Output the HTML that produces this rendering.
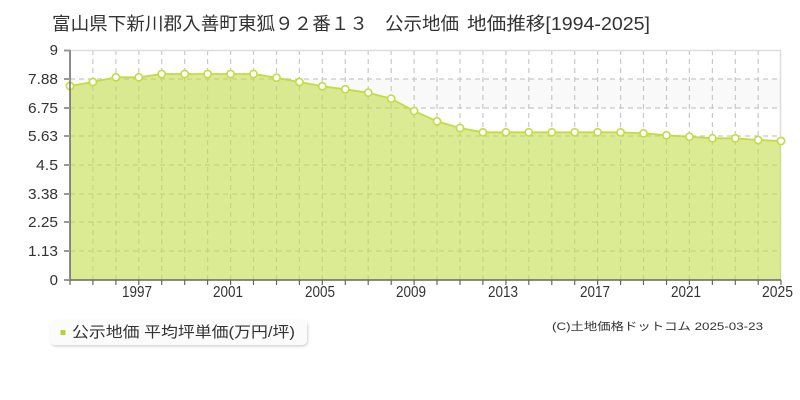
<!DOCTYPE html>
<html><head><meta charset="utf-8"><style>
html,body{margin:0;padding:0;background:#fff;width:800px;height:400px;overflow:hidden}
svg{display:block}
text{font-family:"Liberation Sans","Noto Sans CJK JP",sans-serif;fill:#333}
</style></head><body>
<svg width="800" height="400" viewBox="0 0 800 400" xmlns="http://www.w3.org/2000/svg">
<defs><filter id="sh" x="-10%" y="-30%" width="120%" height="170%"><feDropShadow dx="1" dy="1.5" stdDeviation="1.2" flood-color="#000" flood-opacity="0.18"/></filter></defs>
<!-- title -->
<text x="52" y="30" font-size="18" textLength="316" lengthAdjust="spacingAndGlyphs">富山県下新川郡入善町東狐９２番１３</text>
<text x="385" y="30" font-size="18" textLength="74" lengthAdjust="spacingAndGlyphs">公示地価</text>
<text x="467" y="30" font-size="18" textLength="183" lengthAdjust="spacingAndGlyphs">地価推移[1994-2025]</text>
<!-- plot bg -->
<rect x="70" y="50" width="711" height="230" fill="#fff"/>
<rect x="70" y="79" width="711" height="29" fill="#f9f9f9"/>
<!-- grid -->
<g stroke="#c8c8c8" stroke-width="1.2" stroke-dasharray="5,4" fill="none">
<line x1="70" y1="79" x2="781" y2="79"/><line x1="70" y1="108" x2="781" y2="108"/>
<line x1="70" y1="136" x2="781" y2="136"/><line x1="70" y1="165" x2="781" y2="165"/>
<line x1="70" y1="194" x2="781" y2="194"/><line x1="70" y1="222" x2="781" y2="222"/>
<line x1="70" y1="251" x2="781" y2="251"/>
<path d="M92.9 50V280M115.9 50V280M138.8 50V280M161.7 50V280M184.7 50V280M207.6 50V280M230.6 50V280M253.5 50V280M276.5 50V280M299.4 50V280M322.3 50V280M345.3 50V280M368.2 50V280M391.2 50V280M414.1 50V280M437.0 50V280M460.0 50V280M482.9 50V280M505.9 50V280M528.8 50V280M551.8 50V280M574.7 50V280M597.6 50V280M620.6 50V280M643.5 50V280M666.5 50V280M689.4 50V280M712.4 50V280M735.3 50V280M758.2 50V280"/>
</g>
<line x1="70" y1="50.5" x2="781" y2="50.5" stroke="#ddd" stroke-width="1.5"/>
<line x1="780.5" y1="50" x2="780.5" y2="280" stroke="#ddd" stroke-width="1.5"/>
<!-- area -->
<path d="M70 86L92.9 82L115.9 77.3L138.8 77.3L161.7 74L184.7 74L207.6 74L230.6 74L253.5 74L276.5 77.7L299.4 82L322.3 86.3L345.3 89.3L368.2 92.7L391.2 98.7L414.1 111L437.0 121.3L460.0 128L482.9 132.3L505.9 132.3L528.8 132.3L551.8 132.3L574.7 132.3L597.6 132.3L620.6 132.3L643.5 133.3L666.5 135.3L689.4 136.7L712.4 138.3L735.3 138.3L758.2 140L781 141L781 280L70 280Z" fill="rgba(195,222,77,0.6)"/>
<path d="M70 86L92.9 82L115.9 77.3L138.8 77.3L161.7 74L184.7 74L207.6 74L230.6 74L253.5 74L276.5 77.7L299.4 82L322.3 86.3L345.3 89.3L368.2 92.7L391.2 98.7L414.1 111L437.0 121.3L460.0 128L482.9 132.3L505.9 132.3L528.8 132.3L551.8 132.3L574.7 132.3L597.6 132.3L620.6 132.3L643.5 133.3L666.5 135.3L689.4 136.7L712.4 138.3L735.3 138.3L758.2 140L781 141" fill="none" stroke="#c3dc42" stroke-width="1.8"/>
<g fill="#fff" stroke="#c3dc42" stroke-width="1.6">
<circle cx="70" cy="86" r="3.6"/><circle cx="92.9" cy="82" r="3.6"/><circle cx="115.9" cy="77.3" r="3.6"/><circle cx="138.8" cy="77.3" r="3.6"/><circle cx="161.7" cy="74" r="3.6"/><circle cx="184.7" cy="74" r="3.6"/><circle cx="207.6" cy="74" r="3.6"/><circle cx="230.6" cy="74" r="3.6"/><circle cx="253.5" cy="74" r="3.6"/><circle cx="276.5" cy="77.7" r="3.6"/><circle cx="299.4" cy="82" r="3.6"/><circle cx="322.3" cy="86.3" r="3.6"/><circle cx="345.3" cy="89.3" r="3.6"/><circle cx="368.2" cy="92.7" r="3.6"/><circle cx="391.2" cy="98.7" r="3.6"/><circle cx="414.1" cy="111" r="3.6"/><circle cx="437.0" cy="121.3" r="3.6"/><circle cx="460.0" cy="128" r="3.6"/><circle cx="482.9" cy="132.3" r="3.6"/><circle cx="505.9" cy="132.3" r="3.6"/><circle cx="528.8" cy="132.3" r="3.6"/><circle cx="551.8" cy="132.3" r="3.6"/><circle cx="574.7" cy="132.3" r="3.6"/><circle cx="597.6" cy="132.3" r="3.6"/><circle cx="620.6" cy="132.3" r="3.6"/><circle cx="643.5" cy="133.3" r="3.6"/><circle cx="666.5" cy="135.3" r="3.6"/><circle cx="689.4" cy="136.7" r="3.6"/><circle cx="712.4" cy="138.3" r="3.6"/><circle cx="735.3" cy="138.3" r="3.6"/><circle cx="758.2" cy="140" r="3.6"/><circle cx="781" cy="141" r="3.6"/>
</g>
<!-- axes -->
<line x1="70" y1="50" x2="70" y2="280" stroke="#666" stroke-width="1.5"/>
<line x1="70" y1="280" x2="781" y2="280" stroke="#666" stroke-width="1.5"/>
<g stroke="#999" stroke-width="2">
<path d="M64 50.5H70M64 79H70M64 108H70M64 136H70M64 165H70M64 194H70M64 222H70M64 251H70M64 280H70"/>
</g>
<g stroke="#666" stroke-width="1.2">
<path d="M70 280V285M92.9 280V285M115.9 280V285M138.8 280V285M161.7 280V285M184.7 280V285M207.6 280V285M230.6 280V285M253.5 280V285M276.5 280V285M299.4 280V285M322.3 280V285M345.3 280V285M368.2 280V285M391.2 280V285M414.1 280V285M437.0 280V285M460.0 280V285M482.9 280V285M505.9 280V285M528.8 280V285M551.8 280V285M574.7 280V285M597.6 280V285M620.6 280V285M643.5 280V285M666.5 280V285M689.4 280V285M712.4 280V285M735.3 280V285M758.2 280V285M781 280V285"/>
</g>
<!-- y labels -->
<g font-size="15" text-anchor="end" fill="#444">
<text x="58" y="55">9</text>
<text x="58" y="84" textLength="30" lengthAdjust="spacingAndGlyphs">7.88</text>
<text x="58" y="113" textLength="30" lengthAdjust="spacingAndGlyphs">6.75</text>
<text x="58" y="141" textLength="30" lengthAdjust="spacingAndGlyphs">5.63</text>
<text x="58" y="170" textLength="22" lengthAdjust="spacingAndGlyphs">4.5</text>
<text x="58" y="199" textLength="30" lengthAdjust="spacingAndGlyphs">3.38</text>
<text x="58" y="227" textLength="30" lengthAdjust="spacingAndGlyphs">2.25</text>
<text x="58" y="256" textLength="30" lengthAdjust="spacingAndGlyphs">1.13</text>
<text x="58" y="285">0</text>
</g>
<!-- x labels -->
<g font-size="16" fill="#444">
<text x="122" y="297" textLength="30" lengthAdjust="spacingAndGlyphs">1997</text>
<text x="213" y="297" textLength="30" lengthAdjust="spacingAndGlyphs">2001</text>
<text x="305" y="297" textLength="30" lengthAdjust="spacingAndGlyphs">2005</text>
<text x="396" y="297" textLength="30" lengthAdjust="spacingAndGlyphs">2009</text>
<text x="488" y="297" textLength="30" lengthAdjust="spacingAndGlyphs">2013</text>
<text x="580" y="297" textLength="30" lengthAdjust="spacingAndGlyphs">2017</text>
<text x="671" y="297" textLength="30" lengthAdjust="spacingAndGlyphs">2021</text>
<text x="762" y="297" textLength="31" lengthAdjust="spacingAndGlyphs">2025</text>
</g>
<!-- legend -->
<rect x="50" y="320" width="257" height="25" rx="5" fill="#fbfbfb" filter="url(#sh)"/>
<rect x="60.5" y="330" width="5" height="5" fill="#b5d334"/>
<text x="72" y="337" font-size="15" fill="#222" textLength="223" lengthAdjust="spacingAndGlyphs">公示地価 平均坪単価(万円/坪)</text>
<!-- copyright -->
<text x="552" y="330" font-size="11" fill="#444" textLength="211" lengthAdjust="spacingAndGlyphs">(C)土地価格ドットコム 2025-03-23</text>
</svg>
</body></html>
